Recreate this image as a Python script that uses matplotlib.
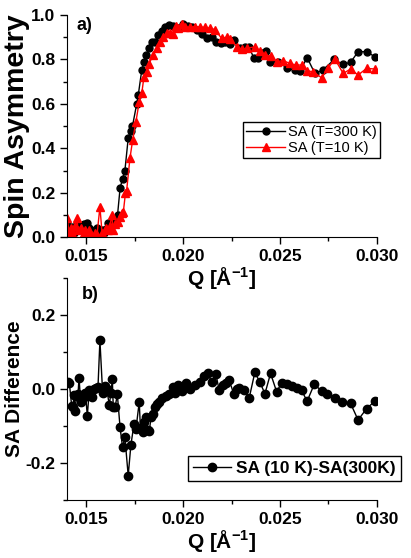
import matplotlib
matplotlib.use("Agg")
import matplotlib.pyplot as plt
from matplotlib.ticker import MultipleLocator, FormatStrFormatter

plt.rcParams['font.family'] = ['Liberation Sans', 'DejaVu Sans']
plt.rcParams['mathtext.fontset'] = 'custom'
plt.rcParams['mathtext.rm'] = 'Liberation Sans'
plt.rcParams['mathtext.bf'] = 'Liberation Sans:bold'

# spin asymmetry at T = 300 K (black circles)
q_300 = [0.01403, 0.01413, 0.01424, 0.01434, 0.01446, 0.01457, 0.01467, 0.01480,
         0.01490, 0.01502, 0.01514, 0.01524, 0.01534, 0.01553, 0.01565, 0.01579,
         0.01591, 0.01601, 0.01613, 0.01625, 0.01636, 0.01648, 0.01661, 0.01674,
         0.01687, 0.01699, 0.01716, 0.01729, 0.01738, 0.01760, 0.01768, 0.01786,
         0.01799, 0.01808, 0.01825, 0.01837, 0.01854, 0.01871, 0.01889, 0.01906,
         0.01928, 0.01947, 0.01974, 0.02000, 0.02025, 0.02045, 0.02069, 0.02095,
         0.02121, 0.02147, 0.02169, 0.02195, 0.02215, 0.02241, 0.02262, 0.02293,
         0.02319, 0.02341, 0.02365, 0.02387, 0.02406, 0.02427, 0.02448, 0.02491,
         0.02537, 0.02577, 0.02603, 0.02640, 0.02680, 0.02720, 0.02780, 0.02823,
         0.02864, 0.02903, 0.02947, 0.02990]
sa_300 = [0.05, 0.03, 0.046, 0.02, 0.05, 0.04, 0.05, 0.045,
          0.06, 0.062, 0.04, 0.03, 0.02, 0.04, 0.03, 0.03,
          0.02, 0.035, 0.062, 0.05, 0.062, 0.07, 0.10, 0.22,
          0.264, 0.30, 0.445, 0.48, 0.50, 0.60, 0.64, 0.752,
          0.79, 0.82, 0.85, 0.88, 0.88, 0.91, 0.93, 0.947,
          0.955, 0.95, 0.94, 0.962, 0.95, 0.945, 0.932, 0.913,
          0.895, 0.90, 0.88, 0.875, 0.88, 0.87, 0.887, 0.853,
          0.855, 0.855, 0.805, 0.808, 0.83, 0.838, 0.79, 0.79,
          0.76, 0.752, 0.75, 0.808, 0.737, 0.752, 0.80, 0.778,
          0.787, 0.835, 0.835, 0.812]

# spin asymmetry at T = 10 K (red triangles)
q_10 = [0.01402, 0.01410, 0.01421, 0.01431, 0.01441, 0.01450, 0.01459, 0.01470,
        0.01483, 0.01493, 0.01503, 0.01514, 0.01524, 0.01534, 0.01545, 0.01555,
        0.01570, 0.01581, 0.01591, 0.01601, 0.01612, 0.01622, 0.01631, 0.01639,
        0.01648, 0.01661, 0.01674, 0.01684, 0.01691, 0.01702, 0.01708, 0.01725,
        0.01739, 0.01756, 0.01773, 0.01786, 0.01797, 0.01811, 0.01825, 0.01842,
        0.01863, 0.01880, 0.01897, 0.01915, 0.01932, 0.01947, 0.01963, 0.01974,
        0.01992, 0.02009, 0.02035, 0.02061, 0.02086, 0.02112, 0.02138, 0.02164,
        0.02198, 0.02224, 0.02241, 0.02279, 0.02302, 0.02327, 0.02370, 0.02396,
        0.02422, 0.02451, 0.02482, 0.02516, 0.02551, 0.02582, 0.02611, 0.02640,
        0.02671, 0.02715, 0.02749, 0.02783, 0.02826, 0.02864, 0.02903, 0.02947,
        0.02990]
sa_10 = [0.084, 0.02, 0.04, 0.01, 0.05, 0.084, 0.03, 0.04,
         0.01, 0.03, 0.02, 0.03, 0.01, 0.0, 0.02, 0.01,
         0.136, 0.02, 0.0, 0.04, 0.03, 0.05, 0.10, 0.03,
         0.06, 0.07, 0.09, 0.11, 0.114, 0.20, 0.21, 0.355,
         0.437, 0.52, 0.61, 0.647, 0.72, 0.745, 0.78, 0.82,
         0.85, 0.88, 0.90, 0.917, 0.92, 0.915, 0.95, 0.94,
         0.962, 0.947, 0.945, 0.948, 0.945, 0.945, 0.94, 0.935,
         0.895, 0.90, 0.89, 0.857, 0.845, 0.85, 0.857, 0.837,
         0.82, 0.815, 0.79, 0.795, 0.782, 0.775, 0.775, 0.748,
         0.745, 0.717, 0.762, 0.802, 0.737, 0.757, 0.73, 0.76,
         0.757]

# difference SA(10 K) - SA(300 K)
q_diff = [0.01407, 0.01412, 0.01424, 0.01431, 0.01436, 0.01441, 0.01449, 0.01457,
          0.01462, 0.01471, 0.01480, 0.01488, 0.01495, 0.01505, 0.01515, 0.01527,
          0.01537, 0.01550, 0.01560, 0.01570, 0.01584, 0.01596, 0.01606, 0.01618,
          0.01627, 0.01634, 0.01639, 0.01648, 0.01660, 0.01674, 0.01687, 0.01699,
          0.01716, 0.01730, 0.01746, 0.01756, 0.01773, 0.01779, 0.01791, 0.01800,
          0.01808, 0.01817, 0.01825, 0.01834, 0.01842, 0.01854, 0.01863, 0.01875,
          0.01893, 0.01911, 0.01926, 0.01946, 0.01960, 0.01973, 0.01992, 0.02004,
          0.02014, 0.02035, 0.02061, 0.02086, 0.02107, 0.02126, 0.02147, 0.02169,
          0.02186, 0.02207, 0.02221, 0.02238, 0.02262, 0.02277, 0.02289, 0.02314,
          0.02341, 0.02370, 0.02396, 0.02422, 0.02451, 0.02482, 0.02508, 0.02534,
          0.02560, 0.02586, 0.02611, 0.02640, 0.02676, 0.02715, 0.02740, 0.02783,
          0.02821, 0.02864, 0.02903, 0.02947, 0.02990]
sa_diff = [0.02, 0.017, -0.045, -0.05, -0.017, -0.06, -0.02, -0.015,
           0.03, -0.036, -0.03, -0.023, -0.012, -0.072, -0.003, -0.023,
           0.0, 0.003, 0.005, 0.131, -0.01, 0.008, 0.0, -0.044,
           -0.01, 0.026, -0.05, -0.05, -0.015, -0.104, -0.158, -0.131,
           -0.234, -0.151, -0.095, -0.109, -0.035, -0.105, -0.117, -0.09,
           -0.075, -0.11, -0.115, -0.075, -0.068, -0.05, -0.042, -0.035,
           -0.025, -0.02, -0.015, 0.005, -0.01, 0.01, -0.005, 0.008,
           0.017, 0.0, 0.01, 0.02, 0.034, 0.043, 0.018, 0.039,
           -0.004, 0.01, 0.015, 0.023, -0.015, 0.0, 0.003, -0.003,
           -0.024, 0.045, 0.018, -0.013, 0.042, -0.007, 0.015, 0.012,
           0.008, 0.003, -0.004, -0.033, 0.012, -0.005, -0.015, -0.024,
           -0.034, -0.039, -0.084, -0.053, -0.033]

fig = plt.figure(figsize=(4.11, 5.58), dpi=100)
ax1 = fig.add_axes([0.163, 0.575, 0.754, 0.398])
ax2 = fig.add_axes([0.163, 0.104, 0.754, 0.398])
ax2.set_facecolor('none')

ax1.plot(q_300, sa_300, '-o', color='black', lw=1, ms=5, label='SA (T=300 K)')
ax1.plot(q_10, sa_10, '-^', color='red', lw=1, ms=6, label='SA (T=10 K)')
ax2.plot(q_diff, sa_diff, '-o', color='black', lw=1, ms=6, label='SA (10 K)-SA(300K)')

for ax in (ax1, ax2):
    ax.set_xlim(0.014, 0.030)
    ax.xaxis.set_major_locator(MultipleLocator(0.005))
    ax.xaxis.set_minor_locator(MultipleLocator(0.0025))
    ax.xaxis.set_major_formatter(FormatStrFormatter('%.3f'))
    ax.yaxis.set_major_formatter(FormatStrFormatter('%.1f'))
    ax.spines['top'].set_visible(False)
    ax.spines['right'].set_visible(False)
    ax.tick_params(which='major', direction='out', length=5, width=1, labelsize=12.5)
    ax.tick_params(which='minor', direction='out', length=3, width=1)
    for lab in ax.get_xticklabels() + ax.get_yticklabels():
        lab.set_fontweight('bold')
    ax.set_xlabel(r'Q [Å$^{\mathbf{-1}}$]', fontsize=15, fontweight='bold', labelpad=1)

ax1.set_ylim(0.0, 1.0)
ax1.yaxis.set_major_locator(MultipleLocator(0.2))
ax1.yaxis.set_minor_locator(MultipleLocator(0.1))
ax1.set_ylabel('Spin Asymmetry', fontsize=20.5, fontweight='bold', labelpad=1)
ax1.text(0.032, 0.99, 'a)', transform=ax1.transAxes, fontsize=13, fontweight='bold', va='top')
ax1.legend(loc='upper left', bbox_to_anchor=(0.591, 0.781), bbox_transform=fig.transFigure,
           fontsize=10.5, frameon=True, fancybox=False, edgecolor='black', framealpha=1,
           handlelength=2.7, borderpad=0.2, labelspacing=0.15, handletextpad=0.2,
           borderaxespad=0)

ax2.set_ylim(-0.3, 0.3)
ax2.yaxis.set_major_locator(MultipleLocator(0.2))
ax2.yaxis.set_minor_locator(MultipleLocator(0.1))
ax2.set_ylabel('SA Difference', fontsize=15, fontweight='bold', labelpad=1)
ax2.text(0.048, 0.965, 'b)', transform=ax2.transAxes, fontsize=13, fontweight='bold', va='top')
ax2.legend(loc='upper left', bbox_to_anchor=(0.457, 0.183), bbox_transform=fig.transFigure,
           prop={'size': 12.5, 'weight': 'bold'}, frameon=True, fancybox=False,
           edgecolor='black', framealpha=1, handlelength=2.2, borderpad=0.3,
           handletextpad=0.3, borderaxespad=0)

fig.savefig('out.png', dpi=100)
